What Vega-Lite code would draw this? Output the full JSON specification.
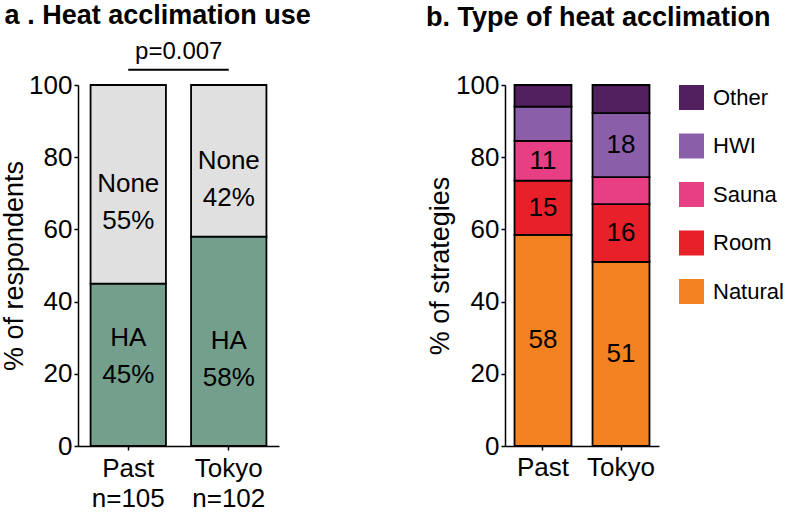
{
  "$schema": "https://vega.github.io/schema/vega-lite/v6.json",
  "background": "white",
  "padding": {"left": 0, "top": 2, "right": 5, "bottom": 5},
  "config": {
    "font": "Liberation Sans",
    "view": {"stroke": null},
    "axis": {"domainColor": "black", "domainWidth": 1.5, "tickColor": "black", "tickWidth": 1.5, "labelColor": "black", "titleColor": "black", "grid": false, "labelFont": "Liberation Sans", "titleFont": "Liberation Sans", "titleFontWeight": "normal", "labelOverlap": false},
    "title": {"font": "Liberation Sans", "fontWeight": "bold", "fontSize": 27, "color": "black", "anchor": "start"}
  },
  "resolve": {"scale": {"color": "independent", "y": "independent", "x": "independent"}},
  "datasets": {
    "use": [
      {"group": "Past", "status": "HA", "pct": 45, "label": "HA\n45%", "rank": 1},
      {"group": "Past", "status": "None", "pct": 55, "label": "None\n55%", "rank": 2},
      {"group": "Tokyo", "status": "HA", "pct": 58, "label": "HA\n58%", "rank": 1},
      {"group": "Tokyo", "status": "None", "pct": 42, "label": "None\n42%", "rank": 2}
    ],
    "pval": [{"a": "Past", "b": "Tokyo", "y": 104.2, "ty": 105.8, "text": "p=0.007"}],
    "types": [
      {"group": "Past", "type": "Natural", "pct": 58.5, "label": "58", "rank": 1},
      {"group": "Past", "type": "Room", "pct": 15, "label": "15", "rank": 2},
      {"group": "Past", "type": "Sauna", "pct": 11, "label": "11", "rank": 3},
      {"group": "Past", "type": "HWI", "pct": 9.5, "label": "", "rank": 4},
      {"group": "Past", "type": "Other", "pct": 6, "label": "", "rank": 5},
      {"group": "Tokyo", "type": "Natural", "pct": 51, "label": "51", "rank": 1},
      {"group": "Tokyo", "type": "Room", "pct": 16, "label": "16", "rank": 2},
      {"group": "Tokyo", "type": "Sauna", "pct": 7.5, "label": "", "rank": 3},
      {"group": "Tokyo", "type": "HWI", "pct": 17.7, "label": "18", "rank": 4},
      {"group": "Tokyo", "type": "Other", "pct": 7.8, "label": "", "rank": 5}
    ]
  },
  "bounds": "flush",
  "spacing": 226,
  "hconcat": [
    {
      "width": 201,
      "height": 361,
      "title": {"text": "a . Heat acclimation use", "frame": "bounds", "offset": 10, "dx": 4},
      "layer": [
        {
          "data": {"name": "use"},
          "mark": {"type": "bar", "stroke": "black", "strokeWidth": 1.8},
          "encoding": {
            "x": {"field": "group", "type": "nominal", "scale": {"paddingInner": 0.25, "paddingOuter": 0.125},
              "axis": {"title": null, "labelAngle": 0, "labelFontSize": 26, "labelLineHeight": 30, "labelPadding": 5, "tickSize": 4, "labelExpr": "datum.label == 'Past' ? ['Past', 'n=105'] : ['Tokyo', 'n=102']"}},
            "y": {"field": "pct", "type": "quantitative", "stack": "zero", "scale": {"domain": [0, 100], "nice": false},
              "axis": {"title": "% of respondents", "titleFontSize": 27, "labelFontSize": 26, "values": [0, 20, 40, 60, 80, 100], "tickSize": 4, "labelPadding": 2, "titlePadding": 0}},
            "color": {"field": "status", "type": "nominal", "scale": {"domain": ["None", "HA"], "range": ["#E0E0E0", "#749F8D"]}, "legend": null},
            "order": {"field": "rank", "type": "quantitative"}
          }
        },
        {
          "data": {"name": "use"},
          "mark": {"type": "text", "fontSize": 26, "lineBreak": "\n", "lineHeight": 37, "baseline": "middle", "color": "black",
            "dy": {"expr": "datum.group == 'Past' && datum.status == 'HA' ? -27 : 0"}},
          "encoding": {
            "x": {"field": "group", "type": "nominal"},
            "y": {"field": "pct", "type": "quantitative", "stack": "zero", "bandPosition": 0.5},
            "text": {"field": "label"},
            "order": {"field": "rank", "type": "quantitative"}
          }
        },
        {
          "data": {"name": "pval"},
          "mark": {"type": "rule", "color": "black", "strokeWidth": 2},
          "encoding": {
            "x": {"field": "a", "type": "nominal", "bandPosition": 0.5},
            "x2": {"field": "b", "bandPosition": 0.5},
            "y": {"field": "y", "type": "quantitative"}
          }
        },
        {
          "data": {"name": "pval"},
          "mark": {"type": "text", "fontSize": 24, "baseline": "bottom", "dx": 50.5, "color": "black"},
          "encoding": {
            "x": {"field": "a", "type": "nominal"},
            "y": {"field": "ty", "type": "quantitative"},
            "text": {"field": "text"}
          }
        }
      ]
    },
    {
      "width": 154,
      "height": 361,
      "title": {"text": "b. Type of heat acclimation", "frame": "group", "offset": 40, "dx": -79},
      "data": {"name": "types"},
      "layer": [
        {
          "mark": {"type": "bar", "stroke": "black", "strokeWidth": 1.8},
          "encoding": {
            "x": {"field": "group", "type": "nominal", "scale": {"paddingInner": 0.27, "paddingOuter": 0.122},
              "axis": {"title": null, "labelAngle": 0, "labelFontSize": 26, "labelPadding": 4, "tickSize": 4}},
            "y": {"field": "pct", "type": "quantitative", "stack": "zero", "scale": {"domain": [0, 100], "nice": false},
              "axis": {"title": "% of strategies", "titleFontSize": 27, "labelFontSize": 26, "values": [0, 20, 40, 60, 80, 100], "tickSize": 4, "labelPadding": 2, "titlePadding": 1}},
            "color": {"field": "type", "type": "nominal",
              "scale": {"domain": ["Other", "HWI", "Sauna", "Room", "Natural"], "range": ["#52205E", "#8A5EA8", "#E83F84", "#E8202A", "#F58220"]},
              "legend": {"title": null, "orient": "right", "offset": 20, "labelFontSize": 22, "symbolType": "square", "symbolSize": 625, "symbolStrokeWidth": 0, "rowPadding": 23.5, "labelOffset": 9, "labelColor": "black", "labelFont": "Liberation Sans", "symbolOpacity": 1}},
            "order": {"field": "rank", "type": "quantitative"}
          }
        },
        {
          "mark": {"type": "text", "fontSize": 26, "baseline": "middle", "color": "black"},
          "encoding": {
            "x": {"field": "group", "type": "nominal"},
            "y": {"field": "pct", "type": "quantitative", "stack": "zero", "bandPosition": 0.5},
            "text": {"field": "label"},
            "order": {"field": "rank", "type": "quantitative"}
          }
        }
      ]
    }
  ]
}
